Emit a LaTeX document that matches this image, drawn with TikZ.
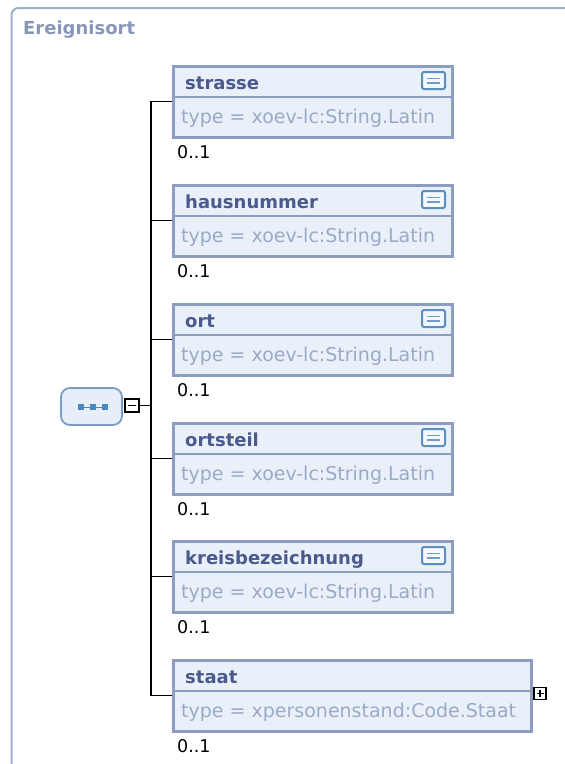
\documentclass[tikz,border=0pt]{standalone}
\usepackage{fontspec}
\setmainfont{DejaVu Sans}
\definecolor{frameC}{HTML}{9FB0CF}
\definecolor{titleC}{HTML}{8896B8}
\definecolor{boxB}{HTML}{8D9DC0}
\definecolor{boxF}{HTML}{E9F0FA}
\definecolor{nameC}{HTML}{4B5A8C}
\definecolor{typeC}{HTML}{9AAAC6}
\definecolor{iconB}{HTML}{5B8FC0}
\definecolor{iconL}{HTML}{6F9CC8}
\definecolor{iconF}{HTML}{F4F8FD}
\definecolor{seqB}{HTML}{7B9CC4}
\definecolor{seqF}{HTML}{E6EEF8}
\definecolor{dotC}{HTML}{4A86C0}
\tikzset{
  elembox/.style={draw=boxB, fill=boxF, line width=3pt, rectangle, anchor=north west, inner sep=0pt, minimum height=71pt},
  divline/.style={draw=boxB, line width=1.5pt},
  elname/.style={anchor=base west, inner sep=0pt, text=nameC, font=\fontsize{18}{20}\selectfont\bfseries},
  eltype/.style={anchor=base west, inner sep=0pt, text=typeC, font=\fontsize{19}{21}\selectfont},
  card/.style={anchor=base west, inner sep=0pt, text=black, font=\fontsize{17.5}{20}\selectfont},
  docicon/.style={draw=iconB, fill=iconF, line width=2pt, rounded corners=2pt, rectangle, minimum width=23pt, minimum height=17pt, inner sep=0pt},
  toggle/.style={draw=black, fill=white, line width=1.8pt, rectangle, inner sep=0pt},
  conn/.style={draw=black, line width=1.5pt},
}
\newcommand{\elemdraw}[6]{% id, top, name, type, width, icon(1/0)
  \node[elembox, minimum width=#5pt] (#1) at (171.5,{#2+1.5}) {};
  \draw[divline] ([yshift=-32.5pt]#1.north west) -- ([yshift=-32.5pt]#1.north east);
  \node[elname] (#1n) at (185,{#2+26}) {#3};
  \node[eltype] (#1t) at (181,{#2+60}) {#4};
  \node[card] (#1c) at (177,{#2+95}) {0..1};
  \ifnum#6=1
    \node[docicon] (#1i) at (433.5,{#2+17.5}) {};
    \draw[iconL, line width=1.6pt] ([xshift=-6.5pt,yshift=2.2pt]#1i.center) -- ([xshift=6.5pt,yshift=2.2pt]#1i.center);
    \draw[iconL, line width=1.6pt] ([xshift=-6.5pt,yshift=-2.2pt]#1i.center) -- ([xshift=6.5pt,yshift=-2.2pt]#1i.center);
  \fi
}
\begin{document}
\begin{tikzpicture}[x=1pt,y=-1pt]
\useasboundingbox (0,0) rectangle (565,764);
\begin{scope}
\clip (0,0) rectangle (565,764);
\draw[frameC, line width=2pt, rounded corners=7pt] (11.5,780) -- (11.5,8) -- (580,8);
\end{scope}
\node[anchor=base west, inner sep=0pt, text=titleC, font=\fontsize{18}{20}\selectfont\bfseries] (title) at (23,34) {Ereignisort};

\elemdraw{b1}{63}{strasse}{type = xoev-lc:String.Latin}{279}{1}
\elemdraw{b2}{182}{hausnummer}{type = xoev-lc:String.Latin}{279}{1}
\elemdraw{b3}{301}{ort}{type = xoev-lc:String.Latin}{279}{1}
\elemdraw{b4}{420}{ortsteil}{type = xoev-lc:String.Latin}{279}{1}
\elemdraw{b5}{538}{kreisbezeichnung}{type = xoev-lc:String.Latin}{279}{1}
\elemdraw{b6}{657}{staat}{type = xpersonenstand:Code.Staat}{358}{0}

% sequence compositor
\node[draw=seqB, fill=seqF, line width=1.8pt, rounded corners=9pt, minimum width=61pt, minimum height=37pt, inner sep=0pt] (seq) at (91.5,406.5) {};
\draw[dotC, line width=1pt] (81,407) -- (105,407);
\foreach \dx in {81,93,105} {
  \fill[dotC] (\dx-2.6,404.4) rectangle (\dx+2.6,409.6);
}
\node[toggle, minimum width=14.5pt, minimum height=13.5pt] (seqm) at (132,405.5) {};
\draw[black, line width=1.6pt] (128,405.5) -- (136,405.5);

\coordinate (j) at (151,405.5);
\draw[conn] (seqm.east) -- (j);
\draw[conn] (b1.west) -| (j);
\draw[conn] (b6.west) -| (j);
\foreach \b in {b2,b3,b4,b5} {
  \draw[conn] (\b.west) -- (\b.west -| j);
}

% plus toggle for staat
\node[toggle, minimum width=12.5pt, minimum height=12pt] (b6p) at (540,693.5) {};
\draw[black, line width=1.4pt] (536.5,693.5) -- (543.5,693.5);
\draw[black, line width=1.4pt] (540,690) -- (540,697);
\end{tikzpicture}
\end{document}
